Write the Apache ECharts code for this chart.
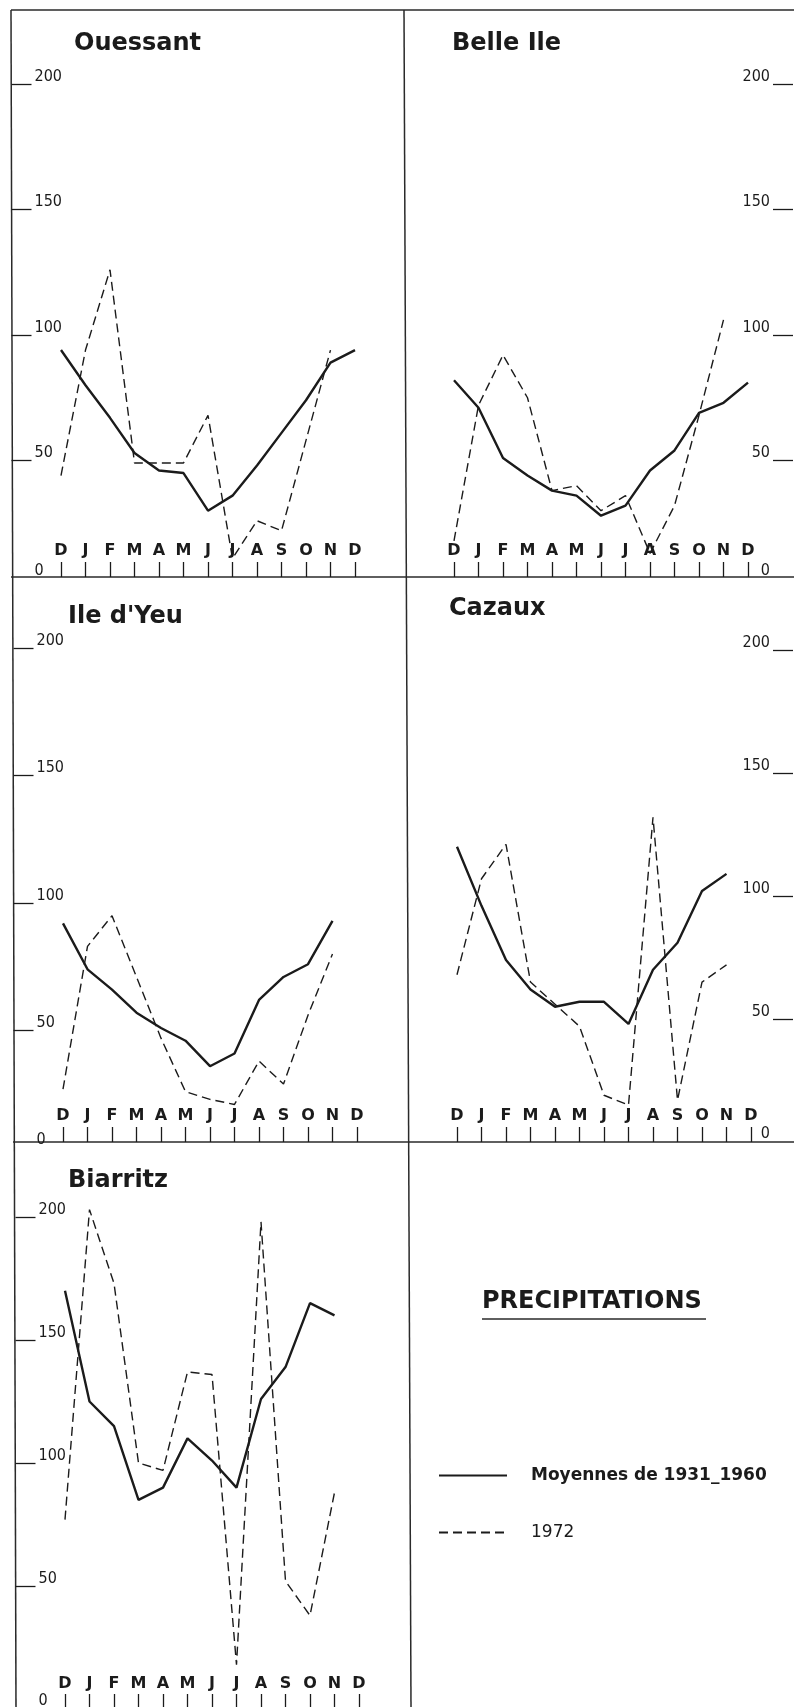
<!DOCTYPE html>
<html><head><meta charset="utf-8">
<script src="https://cdn.jsdelivr.net/npm/echarts@6/dist/echarts.min.js"></script>
<style>html,body{margin:0;padding:0;background:#fff}#c{width:794px;height:1707px}</style>
</head><body><div id="c"></div>
<script>
// ---- data ----
const months = ['D','J','F','M','A','M','J','J','A','S','O','N','D'];
const yLabelValues = [0, 50, 100, 150, 200];
const yTickValues = [50, 100, 150, 200];
const yMin = 0, yMax = 200;
const meanName = 'Moyennes de 1931_1960';
const yearName = '1972';
const chartTitle = 'PRECIPITATIONS';

const ouessantMean = [94, 80, 67, 53, 46, 45, 30, 36, 48, 61, 74, 89, 94];
const ouessant1972 = [44, 94, 126, 49, 49, 49, 68, 11, 26, 22, 58, 94, null];
const belleIleMean = [82, 71, 51, 44, 38, 36, 28, 32, 46, 54, 69, 73, 81];
const belleIle1972 = [18, 72, 92, 75, 38, 40, 30, 36, 13, 32, 68, 106, null];
const ileYeuMean = [92, 74, 66, 57, 51, 46, 36, 41, 62, 71, 76, 93, null];
const ileYeu1972 = [27, 83, 95, 71, 47, 26, 23, 21, 38, 29, 56, 80, null];
const cazauxMean = [120, 96, 74, 62, 55, 57, 57, 48, 70, 81, 102, 109, null];
const cazaux1972 = [68, 107, 121, 65, 56, 47, 19, 15, 132, 17, 65, 72, null];
const biarritzMean = [170, 125, 115, 85, 90, 110, 101, 90, 126, 139, 165, 160, null];
const biarritz1972 = [77, 203, 173, 100, 97, 137, 136, 18, 198, 52, 38, 88, null];

const stations = [
  { name: 'Ouessant',  mean: ouessantMean, y1972: ouessant1972 },
  { name: 'Belle Ile', mean: belleIleMean, y1972: belleIle1972 },
  { name: "Ile d'Yeu", mean: ileYeuMean,   y1972: ileYeu1972 },
  { name: 'Cazaux',    mean: cazauxMean,   y1972: cazaux1972 },
  { name: 'Biarritz',  mean: biarritzMean, y1972: biarritz1972 }
];

// ---- layout (positions / styles) ----
// base: frame line under the panel; zeroShift: where the drawn scale's zero sits relative to it;
// pxPerUnit: vertical scale of that panel in the hand-drawn original
const layout = [
  { side: 'left',  base: 577,  zeroShift: 9,  pxPerUnit: 2.51, firstX: 61,  frameX: 11.5, titleX: 74,  titleY: 46 },
  { side: 'right', base: 577,  zeroShift: 9,  pxPerUnit: 2.51, firstX: 454, frameX: 793,  titleX: 452, titleY: 46 },
  { side: 'left',  base: 1142, zeroShift: 16, pxPerUnit: 2.55, firstX: 63,  frameX: 13.5, titleX: 68,  titleY: 619 },
  { side: 'right', base: 1142, zeroShift: 0,  pxPerUnit: 2.46, firstX: 457, frameX: 793,  titleX: 449, titleY: 611 },
  { side: 'left',  base: 1710, zeroShift: -1, pxPerUnit: 2.46, firstX: 65,  frameX: 15.5, titleX: 68,  titleY: 1183 }
];
const plotW = 294;
const ink = '#1b1b1b';
const headFont = "'DejaVu Sans', sans-serif";
const tickFont = "'Liberation Sans Narrow', 'DejaVu Sans Condensed', 'Roboto Condensed', sans-serif";

const grid = [], xAxis = [], yAxis = [], series = [], titles = [];
stations.forEach((st, i) => {
  const L = layout[i];
  const zeroY = L.base + L.zeroShift;
  const h = (yMax - yMin) * L.pxPerUnit;
  grid.push({ left: L.firstX, top: zeroY - h, width: plotW, height: h,
              containLabel: false, outerBoundsMode: 'none' });
  xAxis.push({
    gridIndex: i, type: 'category', data: months, boundaryGap: false,
    offset: -L.zeroShift,
    axisLine: { show: false },
    axisTick: { show: true, inside: true, length: 15, interval: 0,
                lineStyle: { color: ink, width: 1.3 } },
    axisLabel: { inside: true, margin: 18, interval: 0, color: ink,
                 fontFamily: headFont, fontWeight: 'bold', fontSize: 16, lineHeight: 16 },
    splitLine: { show: false }
  });
  const rightEdge = L.firstX + plotW;
  const zeroPad = L.zeroShift > 0 ? L.zeroShift + 6 : 1;
  yAxis.push({
    gridIndex: i, type: 'value', min: yMin, max: yMax,
    position: L.side,
    offset: L.side === 'left' ? (L.firstX - L.frameX) : (L.frameX - rightEdge),
    axisLine: { show: false },
    axisTick: { show: true, inside: true, length: 20, customValues: yTickValues,
                lineStyle: { color: ink, width: 1.3 } },
    axisLabel: { inside: true, margin: 23, verticalAlign: 'bottom', color: ink,
                 customValues: yLabelValues,
                 fontFamily: tickFont, fontSize: 16, lineHeight: 15,
                 formatter: v => (v === 0 ? '{z|0}' : String(v)),
                 rich: { z: { fontFamily: tickFont, fontSize: 16, lineHeight: 15, color: ink,
                              padding: [0, 0, zeroPad, 0] } } },
    splitLine: { show: false }
  });
  series.push({
    name: meanName, type: 'line', xAxisIndex: i, yAxisIndex: i, data: st.mean,
    symbol: 'none', clip: false, connectNulls: false,
    lineStyle: { color: ink, width: 2.4, type: 'solid' },
    itemStyle: { color: ink }
  });
  series.push({
    name: yearName, type: 'line', xAxisIndex: i, yAxisIndex: i, data: st.y1972,
    symbol: 'none', clip: false, connectNulls: false,
    lineStyle: { color: ink, width: 1.4, type: [9, 5] },
    itemStyle: { color: ink }
  });
  titles.push({
    text: st.name, left: L.titleX, top: L.titleY - 14, padding: 0,
    textStyle: { fontFamily: headFont, fontWeight: 'bold', fontSize: 24, color: ink }
  });
});
titles.push({
  text: chartTitle, left: 482, top: 1290, padding: 0,
  textStyle: { fontFamily: headFont, fontWeight: 'bold', fontSize: 24, color: ink }
});

const frameColor = '#2a2a2a';
const lineG = (x1, y1, x2, y2, w) => ({ type: 'line', silent: true,
  shape: { x1, y1, x2, y2 }, style: { stroke: frameColor, lineWidth: w || 1.5 } });

const chart = echarts.init(document.getElementById('c'), null, { renderer: 'canvas' });
chart.setOption({
  animation: false,
  backgroundColor: '#ffffff',
  title: titles,
  legend: {
    orient: 'vertical', left: 433, top: 1462, itemWidth: 68, itemHeight: 14, itemGap: 40,
    itemStyle: { opacity: 0, borderWidth: 0 },
    data: [
      { name: meanName, textStyle: { fontWeight: 'bold', fontSize: 17 } },
      { name: yearName, textStyle: { fontWeight: 'normal', fontSize: 17 } }
    ],
    textStyle: { fontFamily: headFont, color: ink, padding: [0, 0, 0, 19] }
  },
  grid, xAxis, yAxis, series,
  graphic: [
    lineG(11, 10, 16, 1707),
    lineG(11, 10, 794, 10),
    lineG(404, 10, 411, 1707),
    lineG(11, 577, 794, 577),
    lineG(13, 1142, 794, 1142),
    lineG(482, 1319, 706, 1319, 1.6)
  ]
});
</script></body></html>
